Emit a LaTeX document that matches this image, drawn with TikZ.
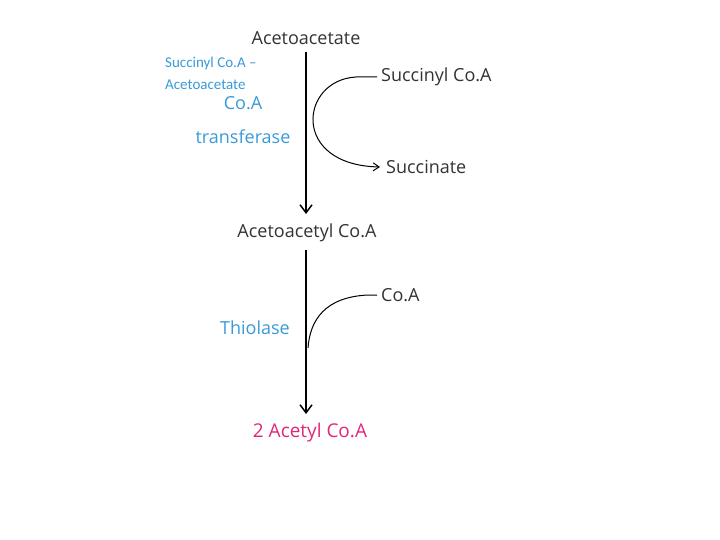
\documentclass[tikz,border=0pt]{standalone}
\usepackage{fontspec}
\setmainfont{Open Sans}
\newfontfamily\carlitofont{Carlito}
\usetikzlibrary{arrows.meta}
\definecolor{dk}{HTML}{333333}
\definecolor{bl}{HTML}{3A9AD9}
\definecolor{mg}{HTML}{E0287A}
\begin{document}
\begin{tikzpicture}[x=1pt,y=-1pt,
  lbl/.style={text=dk,font=\fontsize{18}{21}\selectfont,inner sep=0pt},
  enz/.style={text=bl,font=\fontsize{18}{34}\selectfont,inner sep=0pt,align=center},
  arr/.style={draw=black,line width=1.5pt,-{Straight Barb[length=8pt,width=12pt]}},
  sarr/.style={draw=black,line width=1pt}]
\useasboundingbox[fill=white] (0,0) rectangle (720,540);
\node[lbl] (aa) at (306,38) {Acetoacetate};
\node[lbl] (aac) at (307,233) {Acetoacetyl Co.A};
\node[text=mg,font=\fontsize{19}{22}\selectfont,inner sep=0pt] (ac) at (310,433) {2 Acetyl Co.A};
\node[lbl,anchor=west] (sc) at (381,77) {Succinyl Co.A};
\node[lbl,anchor=west] (su) at (386,167) {Succinate};
\node[lbl,anchor=west] (coa) at (381,295) {Co.A};
\node[enz] (tr) at (243,120) {Co.A\\transferase};
\node[enz] (th) at (255,328) {Thiolase};
\node[text=bl,font=\carlitofont\fontsize{15}{22}\selectfont,align=left,anchor=north west,inner sep=0pt] (nm) at (165,57) {Succinyl Co.A –\\Acetoacetate};
\draw[arr] (306,52) -- (306,214);
\draw[arr] (306,250) -- (306,414);
\draw[sarr,-{Straight Barb[length=6pt,width=8pt]}] (377,77) -- (356,77) .. controls (300,80) and (290,165) .. (380,167);
\draw[sarr] (377,295) -- (368,295) .. controls (325,297) and (310,320) .. (308,348);
\end{tikzpicture}
\end{document}
